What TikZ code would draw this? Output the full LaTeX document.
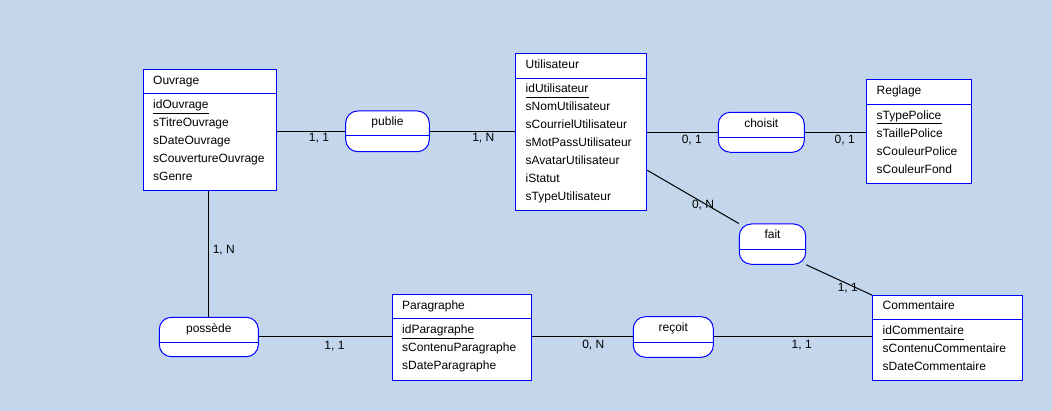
\documentclass[tikz,border=0pt]{standalone}
\usepackage{fontspec}
\setmainfont{Liberation Sans}
\usetikzlibrary{calc}
\definecolor{bg}{RGB}{195,214,236}
\definecolor{erblue}{RGB}{0,0,255}
\begin{document}
\begin{tikzpicture}[x=1pt,y=-1pt,
  entity/.style={draw=erblue, fill=white, line width=1pt, rectangle, inner sep=0pt},
  rel/.style={draw=erblue, fill=white, line width=1pt, rectangle, rounded corners=12pt, inner sep=0pt},
  divider/.style={draw=erblue, line width=1pt},
  txt/.style={anchor=base west, inner sep=0pt, font=\fontsize{12}{14}\selectfont},
  rtxt/.style={anchor=base, inner sep=0pt, font=\fontsize{12}{14}\selectfont},
  card/.style={anchor=base, inner sep=0pt, font=\fontsize{12}{14}\selectfont},
  uline/.style={draw=black, line width=1pt},
  conn/.style={draw=black, line width=1pt}]
\fill[bg] (0,0) rectangle (1052,411);
\useasboundingbox (0,0) rectangle (1052,411);

% ---------- Ouvrage ----------
\node[entity, minimum width=133.4pt, minimum height=121.7pt] (ouv) at (210,130.15) {};
\draw[divider] (ouv.west |- 0,94) -- (ouv.east |- 0,94);
\node[txt] (ouvT) at (153,84.3) {Ouvrage};
\node[txt] (ouvA1) at (153,108.3) {idOuvrage};
\node[txt] (ouvA2) at (153,126.3) {sTitreOuvrage};
\node[txt] (ouvA3) at (153,144.3) {sDateOuvrage};
\node[txt] (ouvA4) at (153,162.3) {sCouvertureOuvrage};
\node[txt] (ouvA5) at (153,180.3) {sGenre};
\draw[uline] ([yshift=-5pt]ouvA1.base west) -- ([yshift=-5pt]ouvA1.base east);

% ---------- Utilisateur ----------
\node[entity, minimum width=131.4pt, minimum height=157.7pt] (util) at (581,132.15) {};
\draw[divider] (util.west |- 0,78.3) -- (util.east |- 0,78.3);
\node[txt] (utilT) at (525.5,68.3) {Utilisateur};
\node[txt] (utilA1) at (525.5,92.5) {idUtilisateur};
\node[txt] (utilA2) at (525.5,110.5) {sNomUtilisateur};
\node[txt] (utilA3) at (525.5,128.5) {sCourrielUtilisateur};
\node[txt] (utilA4) at (525.5,146.5) {sMotPassUtilisateur};
\node[txt] (utilA5) at (525.5,164.5) {sAvatarUtilisateur};
\node[txt] (utilA6) at (525.5,182.5) {iStatut};
\node[txt] (utilA7) at (525.5,200.5) {sTypeUtilisateur};
\draw[uline] ([yshift=-5pt]utilA1.base west) -- ([yshift=-5pt]utilA1.base east);

% ---------- Reglage ----------
\node[entity, minimum width=104.3pt, minimum height=104pt] (regl) at (918.85,131.3) {};
\draw[divider] (regl.west |- 0,104.3) -- (regl.east |- 0,104.3);
\node[txt] (reglT) at (876.5,94.5) {Reglage};
\node[txt] (reglA1) at (876.5,119.3) {sTypePolice};
\node[txt] (reglA2) at (876.5,137.3) {sTaillePolice};
\node[txt] (reglA3) at (876.5,155.3) {sCouleurPolice};
\node[txt] (reglA4) at (876.5,173.3) {sCouleurFond};
\draw[uline] ([yshift=-4pt]reglA1.base west) -- ([yshift=-4pt]reglA1.base east);

% ---------- Paragraphe ----------
\node[entity, minimum width=139.4pt, minimum height=86.4pt] (para) at (462,337.5) {};
\draw[divider] (para.west |- 0,319) -- (para.east |- 0,319);
\node[txt] (paraT) at (402,309.3) {Paragraphe};
\node[txt] (paraA1) at (402,333.3) {idParagraphe};
\node[txt] (paraA2) at (402,351.3) {sContenuParagraphe};
\node[txt] (paraA3) at (402,369.3) {sDateParagraphe};
\draw[uline] ([yshift=-5pt]paraA1.base west) -- ([yshift=-5pt]paraA1.base east);

% ---------- Commentaire ----------
\node[entity, minimum width=149.6pt, minimum height=85.3pt] (com) at (947.5,338.35) {};
\draw[divider] (com.west |- 0,320) -- (com.east |- 0,320);
\node[txt] (comT) at (882.5,310) {Commentaire};
\node[txt] (comA1) at (882.5,334.3) {idCommentaire};
\node[txt] (comA2) at (882.5,352.3) {sContenuCommentaire};
\node[txt] (comA3) at (882.5,370.3) {sDateCommentaire};
\draw[uline] ([yshift=-5pt]comA1.base west) -- ([yshift=-5pt]comA1.base east);

% ---------- Relations ----------
\node[rel, minimum width=83.6pt, minimum height=40.7pt] (publie) at (387.5,131.35) {};
\draw[divider] (publie.west |- 0,136) -- (publie.east |- 0,136);
\node[rtxt] (publieT) at (387.5,125.7) {publie};

\node[rel, minimum width=86pt, minimum height=40pt] (choisit) at (761.3,132.3) {};
\draw[divider] (choisit.west |- 0,137.3) -- (choisit.east |- 0,137.3);
\node[rtxt] (choisitT) at (761.3,127.3) {choisit};

\node[rel, minimum width=66.4pt, minimum height=40.3pt] (fait) at (772.5,244.15) {};
\draw[divider] (fait.west |- 0,249.3) -- (fait.east |- 0,249.3);
\node[rtxt] (faitT) at (772.5,239) {fait};

\node[rel, minimum width=99pt, minimum height=39.4pt] (possede) at (208.8,337) {};
\draw[divider] (possede.west |- 0,342.3) -- (possede.east |- 0,342.3);
\node[rtxt] (possedeT) at (208.8,332.3) {possède};

\node[rel, minimum width=80pt, minimum height=40.6pt] (recoit) at (673.3,337) {};
\draw[divider] (recoit.west |- 0,342.3) -- (recoit.east |- 0,342.3);
\node[rtxt] (recoitT) at (673.3,331.5) {reçoit};

% ---------- Connectors ----------
\draw[conn] (publie.west -| ouv.east) -- (publie.west);
\draw[conn] (publie.east) -- (publie.east -| util.west);
\draw[conn] (choisit.west -| util.east) -- (choisit.west);
\draw[conn] (choisit.east) -- (choisit.east -| regl.west);
\draw[conn] ($(util.north east)!0.74!(util.south east)$) -- (fait.north west);
\draw[conn] (fait.south east) -- (com.north west);
\draw[conn] (possede.north |- ouv.south) -- (possede.north);
\draw[conn] (possede.east) -- (possede.east -| para.west);
\draw[conn] (recoit.west -| para.east) -- (recoit.west);
\draw[conn] (recoit.east) -- (recoit.east -| com.west);

% ---------- Cardinalities ----------
\node[card] (c1) at (319,142) {1, 1};
\node[card] (c2) at (483.3,142) {1, N};
\node[card] (c3) at (691.8,144) {0, 1};
\node[card] (c4) at (844.7,144) {0, 1};
\node[card] (c5) at (703,209) {0, N};
\node[card] (c6) at (847.8,291.7) {1, 1};
\node[card] (c7) at (223.8,254) {1, N};
\node[card] (c8) at (334.5,349.3) {1, 1};
\node[card] (c9) at (593.3,349) {0, N};
\node[card] (c10) at (801.7,349) {1, 1};
\end{tikzpicture}
\end{document}
